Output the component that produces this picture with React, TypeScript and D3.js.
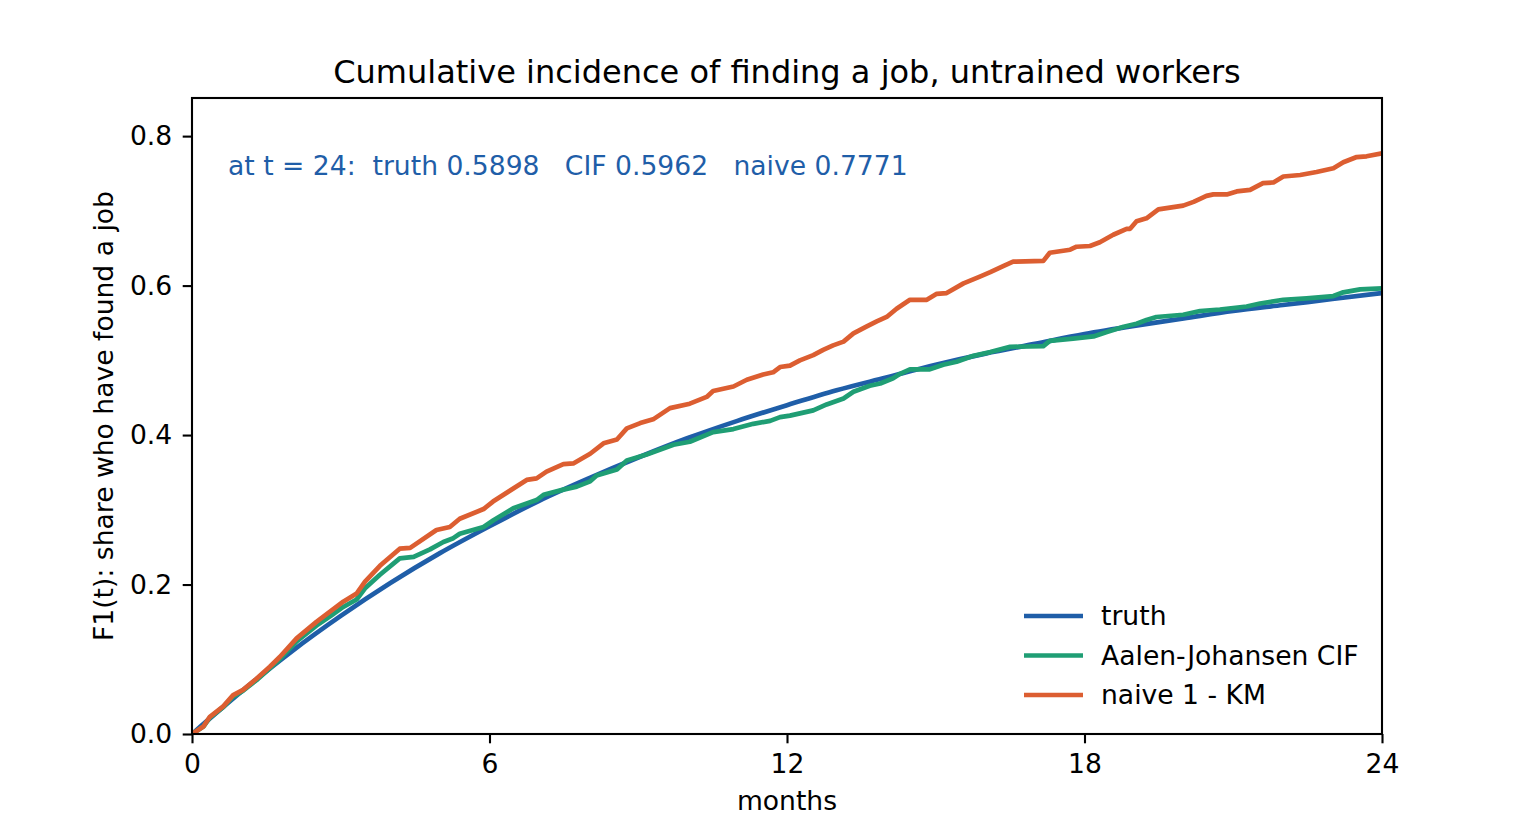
import React, { useEffect, useState } from 'react';
import * as d3 from 'd3';

// months and values
const truthT = [0, 1, 2, 3, 4, 5, 6, 7, 8, 9, 10, 11, 12, 13, 14, 15, 16, 17, 18, 19, 20, 21, 22, 23, 24];
const truthV = [0, 0.057, 0.110, 0.158, 0.202, 0.242, 0.278, 0.312, 0.342, 0.370, 0.396, 0.419, 0.440,
  0.460, 0.477, 0.494, 0.509, 0.522, 0.535, 0.546, 0.556, 0.566, 0.574, 0.582, 0.590];

const cifT = [0, 0.23, 0.36, 0.63, 0.83, 1.03, 1.3, 1.57, 1.77, 2.11, 2.51, 2.8, 3.05, 3.32, 3.49, 3.79,
  4.19, 4.47, 4.8, 5.07, 5.27, 5.4, 5.88, 6.08, 6.48, 6.95, 7.09, 7.49, 7.76, 8.03, 8.16, 8.57, 8.77,
  9.17, 9.71, 10.04, 10.51, 10.92, 11.32, 11.66, 11.86, 12.06, 12.53, 12.8, 13.14, 13.34, 13.67, 13.88,
  14.14, 14.28, 14.48, 14.88, 15.15, 15.42, 15.76, 16.1, 16.5, 17.17, 17.3, 17.77, 18.18, 18.45, 18.79,
  19.05, 19.25, 19.45, 19.99, 20.33, 20.73, 21.27, 21.54, 22.01, 22.48, 23.02, 23.22, 23.56, 24];
const cifV = [0, 0.010, 0.022, 0.036, 0.050, 0.058, 0.072, 0.088, 0.100, 0.124, 0.145, 0.158, 0.170,
  0.180, 0.195, 0.213, 0.235, 0.237, 0.247, 0.257, 0.262, 0.268, 0.277, 0.286, 0.302, 0.313, 0.320,
  0.327, 0.331, 0.338, 0.346, 0.354, 0.366, 0.374, 0.387, 0.391, 0.404, 0.408, 0.415, 0.419, 0.424,
  0.426, 0.433, 0.441, 0.449, 0.458, 0.466, 0.469, 0.476, 0.482, 0.488, 0.488, 0.494, 0.498, 0.506,
  0.511, 0.518, 0.519, 0.526, 0.529, 0.532, 0.538, 0.545, 0.549, 0.554, 0.558, 0.561, 0.566, 0.568,
  0.572, 0.576, 0.581, 0.583, 0.586, 0.591, 0.595, 0.5962];

const naiveT = [0, 0.23, 0.36, 0.63, 0.83, 1.03, 1.3, 1.57, 1.77, 2.11, 2.51, 3.05, 3.32, 3.49, 3.79,
  4.19, 4.4, 4.93, 5.2, 5.4, 5.88, 6.07, 6.75, 6.95, 7.15, 7.49, 7.69, 8.03, 8.3, 8.57, 8.77, 9.04, 9.3,
  9.64, 10.04, 10.38, 10.51, 10.92, 11.19, 11.52, 11.72, 11.86, 12.06, 12.26, 12.53, 12.73, 12.93, 13.14,
  13.34, 13.6, 13.81, 14.01, 14.21, 14.48, 14.82, 15.02, 15.22, 15.56, 15.89, 16.1, 16.36, 16.56, 17.17,
  17.3, 17.71, 17.84, 18.11, 18.31, 18.58, 18.85, 18.92, 19.05, 19.25, 19.49, 19.79, 19.99, 20.2, 20.46,
  20.6, 20.87, 21.07, 21.34, 21.6, 21.81, 22.01, 22.35, 22.68, 23.02, 23.22, 23.49, 23.69, 24];
const naiveV = [0, 0.010, 0.023, 0.037, 0.052, 0.059, 0.074, 0.090, 0.103, 0.128, 0.150, 0.177, 0.188,
  0.204, 0.225, 0.248, 0.249, 0.273, 0.277, 0.288, 0.301, 0.311, 0.340, 0.342, 0.351, 0.361, 0.362,
  0.375, 0.389, 0.394, 0.409, 0.416, 0.421, 0.436, 0.442, 0.451, 0.459, 0.465, 0.474, 0.481, 0.484,
  0.491, 0.493, 0.500, 0.507, 0.514, 0.520, 0.525, 0.536, 0.545, 0.552, 0.558, 0.569, 0.581, 0.581,
  0.589, 0.590, 0.603, 0.612, 0.618, 0.626, 0.632, 0.633, 0.644, 0.648, 0.652, 0.653, 0.658, 0.668,
  0.676, 0.676, 0.686, 0.690, 0.702, 0.705, 0.707, 0.712, 0.720, 0.722, 0.722, 0.726, 0.728, 0.737,
  0.738, 0.746, 0.748, 0.752, 0.757, 0.765, 0.772, 0.773, 0.7771];

const xTicks = [0, 6, 12, 18, 24];
const yTicks = [0, 0.2, 0.4, 0.6, 0.8];
const legendLabels = ['truth', 'Aalen-Johansen CIF', 'naive 1 - KM'];
const seriesColors = ['#1f5ea8', '#1f9e74', '#dc5e31'];

const FONT = '"DejaVu Sans", sans-serif';
const FS = '26.6px';

const App: React.FC = () => {
  const [svgRef, setSvgRef] = useState<SVGSVGElement | null>(null);
  const width = 1536;
  const height = 825;

  useEffect(() => {
    if (!svgRef) return;
    d3.select(svgRef).selectAll('*').remove();

    const margin = { top: 98, right: 154, bottom: 91, left: 192 };
    const innerWidth = width - margin.left - margin.right;
    const innerHeight = height - margin.top - margin.bottom;

    const svg = d3.select(svgRef).attr('width', width).attr('height', height);
    svg.append('rect').attr('width', width).attr('height', height).attr('fill', '#fff');

    const g = svg.append('g').attr('transform', `translate(${margin.left},${margin.top})`);

    const x = d3.scaleLinear().domain([0, 24]).range([0, innerWidth]);
    const y = d3.scaleLinear().domain([0, 0.851]).range([innerHeight, 0]);

    const line = d3.line<[number, number]>()
      .x(d => x(d[0]))
      .y(d => y(d[1]));

    const zip = (ts: number[], vs: number[]) => ts.map((t, i) => [t, vs[i]] as [number, number]);

    // clip to the axes box
    svg.append('defs').append('clipPath').attr('id', 'plot-clip')
      .append('rect').attr('width', innerWidth).attr('height', innerHeight);

    const plot = g.append('g').attr('clip-path', 'url(#plot-clip)');

    plot.append('path')
      .datum(zip(truthT, truthV))
      .attr('fill', 'none')
      .attr('stroke', seriesColors[0])
      .attr('stroke-width', 4.7)
      .attr('d', line.curve(d3.curveMonotoneX));

    plot.append('path')
      .datum(zip(cifT, cifV))
      .attr('fill', 'none')
      .attr('stroke', seriesColors[1])
      .attr('stroke-width', 4.7)
      .attr('stroke-linejoin', 'round')
      .attr('d', line.curve(d3.curveLinear));

    plot.append('path')
      .datum(zip(naiveT, naiveV))
      .attr('fill', 'none')
      .attr('stroke', seriesColors[2])
      .attr('stroke-width', 4.7)
      .attr('stroke-linejoin', 'round')
      .attr('d', line.curve(d3.curveLinear));

    // axes
    const xAxis = g.append('g')
      .attr('transform', `translate(0,${innerHeight})`)
      .call(d3.axisBottom(x).tickValues(xTicks).tickSize(9.3).tickPadding(10.5).tickSizeOuter(0).tickFormat(d3.format('d')));
    const yAxis = g.append('g')
      .call(d3.axisLeft(y).tickValues(yTicks).tickSize(9.3).tickPadding(10.5).tickSizeOuter(0).tickFormat(d3.format('.1f')));

    [xAxis, yAxis].forEach(a => {
      a.select('.domain').remove();
      a.selectAll('line').attr('stroke', '#000').attr('stroke-width', 2.1);
      a.selectAll('text').attr('fill', '#000').style('font-family', FONT).style('font-size', FS);
    });

    // spines
    g.append('rect')
      .attr('width', innerWidth)
      .attr('height', innerHeight)
      .attr('fill', 'none')
      .attr('stroke', '#000')
      .attr('stroke-width', 2.1);

    // title and axis labels
    svg.append('text')
      .attr('x', margin.left + innerWidth / 2)
      .attr('y', 83)
      .attr('text-anchor', 'middle')
      .style('font-family', FONT)
      .style('font-size', '32px')
      .text('Cumulative incidence of finding a job, untrained workers');

    svg.append('text')
      .attr('x', margin.left + innerWidth / 2)
      .attr('y', 810)
      .attr('text-anchor', 'middle')
      .style('font-family', FONT)
      .style('font-size', FS)
      .text('months');

    svg.append('text')
      .attr('transform', `translate(113,${margin.top + innerHeight / 2}) rotate(-90)`)
      .attr('text-anchor', 'middle')
      .style('font-family', FONT)
      .style('font-size', FS)
      .text('F1(t): share who have found a job');

    // annotation
    g.append('text')
      .attr('x', 36)
      .attr('y', 77)
      .attr('fill', seriesColors[0])
      .attr('xml:space', 'preserve')
      .style('white-space', 'pre')
      .style('font-family', FONT)
      .style('font-size', FS)
      .text('at t = 24:  truth 0.5898   CIF 0.5962   naive 0.7771');

    // legend
    const legend = g.append('g').attr('transform', `translate(${832},${518})`);
    legendLabels.forEach((label, i) => {
      const row = legend.append('g').attr('transform', `translate(0,${i * 39.5})`);
      row.append('line')
        .attr('x1', 0).attr('x2', 59)
        .attr('stroke', seriesColors[i])
        .attr('stroke-width', 4.7);
      row.append('text')
        .attr('x', 77)
        .attr('dy', '0.35em')
        .style('font-family', FONT)
        .style('font-size', FS)
        .text(label);
    });
  }, [svgRef]);

  return (
    <svg ref={setSvgRef} style={{ position: 'absolute', left: 0, top: 0, display: 'block' }} />
  );
};

export default App;
